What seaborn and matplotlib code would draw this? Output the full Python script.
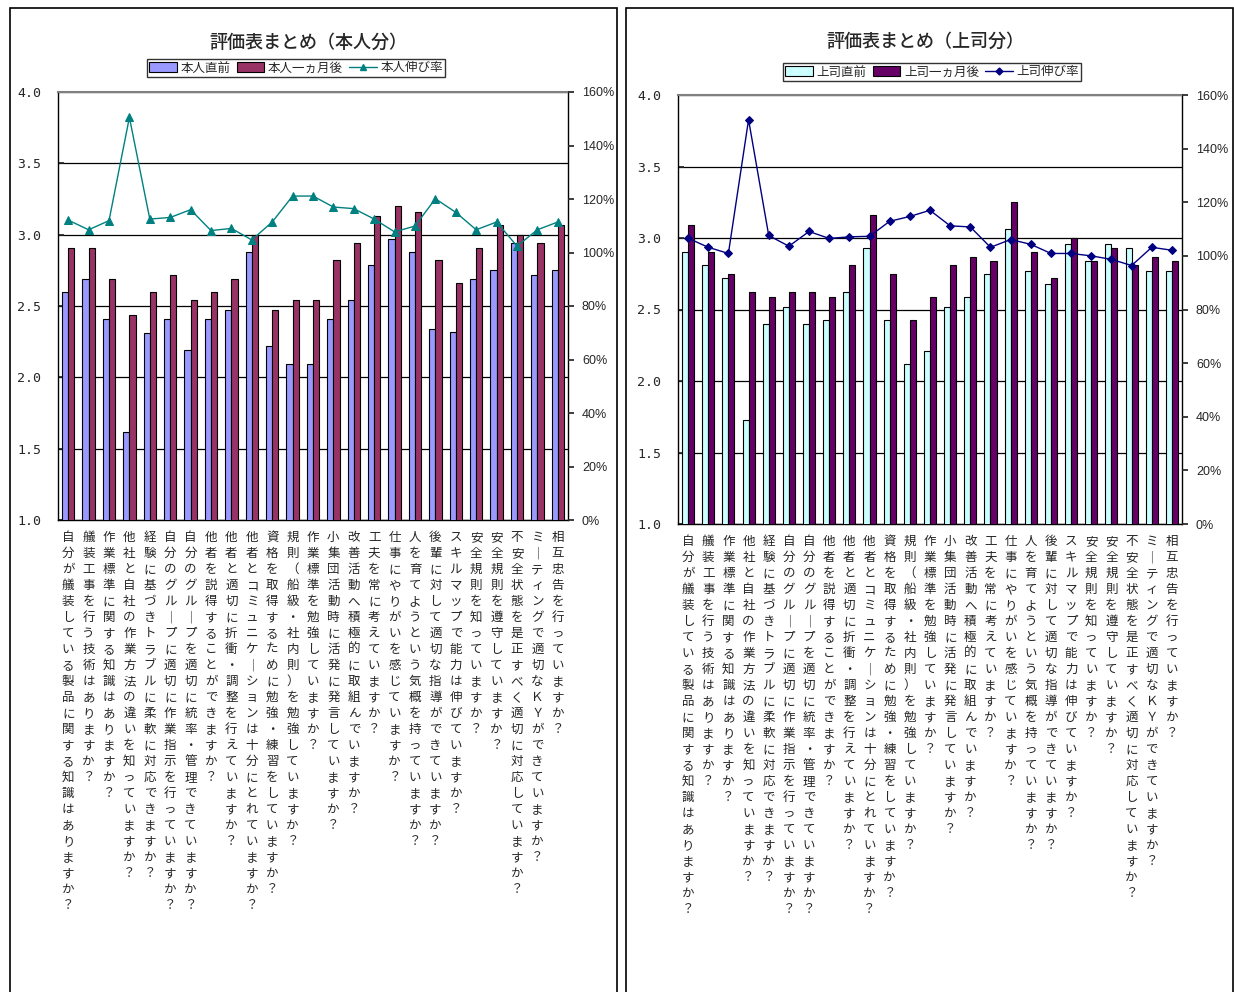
import numpy as np
import pandas as pd
import matplotlib
matplotlib.use("Agg")
import matplotlib.pyplot as plt
import matplotlib.patches as mpatches
from matplotlib.lines import Line2D
import seaborn as sns

sns.set_theme(style="white")
plt.rcParams["font.family"] = ["Noto Sans CJK JP", "DejaVu Sans"]

# Survey items (shared by both panels)
items = [
    "自分が艤装している製品に関する知識はありますか？",
    "艤装工事を行う技術はありますか？",
    "作業標準に関する知識はありますか？",
    "他社と自社の作業方法の違いを知っていますか？",
    "経験に基づきトラブルに柔軟に対応できますか？",
    "自分のグループに適切に作業指示を行っていますか？",
    "自分のグループを適切に統率・管理できていますか？",
    "他者を説得することができますか？",
    "他者と適切に折衝・調整を行えていますか？",
    "他者とコミュニケーションは十分にとれていますか？",
    "資格を取得するために勉強・練習をしていますか？",
    "規則（船級・社内則）を勉強していますか？",
    "作業標準を勉強していますか？",
    "小集団活動時に活発に発言していますか？",
    "改善活動へ積極的に取組んでいますか？",
    "工夫を常に考えていますか？",
    "仕事にやりがいを感じていますか？",
    "人を育てようという気概を持っていますか？",
    "後輩に対して適切な指導ができていますか？",
    "スキルマップで能力は伸びていますか？",
    "安全規則を知っていますか？",
    "安全規則を遵守していますか？",
    "不安全状態を是正すべく適切に対応していますか？",
    "ミーティングで適切なＫＹができていますか？",
    "相互忠告を行っていますか？",
]

# Self evaluation
self_before = [2.60, 2.69, 2.41, 1.62, 2.31, 2.41, 2.19, 2.41, 2.47, 2.88,
               2.22, 2.09, 2.09, 2.41, 2.54, 2.79, 2.97, 2.88, 2.34, 2.32,
               2.69, 2.75, 2.94, 2.72, 2.75]
self_after = [2.91, 2.91, 2.69, 2.44, 2.60, 2.72, 2.54, 2.60, 2.69, 3.00,
              2.47, 2.54, 2.54, 2.82, 2.94, 3.13, 3.20, 3.16, 2.82, 2.66,
              2.91, 3.07, 3.00, 2.94, 3.07]
self_growth = [112.1, 108.5, 111.9, 150.5, 112.5, 113.1, 116.0, 108.2, 109.0, 104.7,
               111.4, 121.1, 121.1, 117.0, 116.4, 112.5, 107.7, 109.9, 120.1, 115.0,
               108.5, 111.4, 102.4, 108.5, 111.4]

# Supervisor evaluation
boss_before = [2.90, 2.81, 2.72, 1.73, 2.40, 2.52, 2.40, 2.43, 2.62, 2.93,
               2.43, 2.12, 2.21, 2.52, 2.59, 2.75, 3.06, 2.77, 2.68, 2.96,
               2.84, 2.96, 2.93, 2.77, 2.77]
boss_after = [3.09, 2.90, 2.75, 2.62, 2.59, 2.62, 2.62, 2.59, 2.81, 3.16,
              2.75, 2.43, 2.59, 2.81, 2.87, 2.84, 3.25, 2.90, 2.72, 3.00,
              2.84, 2.93, 2.81, 2.87, 2.84]
boss_growth = [106.6, 103.2, 100.9, 150.8, 107.6, 103.6, 109.1, 106.5, 107.1, 107.3,
               112.9, 114.7, 117.0, 111.2, 110.8, 103.2, 106.1, 104.3, 100.9, 100.9,
               100.0, 98.7, 96.4, 103.2, 102.1]

W, H = 1234, 992
fig = plt.figure(figsize=(W / 100, H / 100), dpi=100)
fig.patch.set_facecolor("white")


def px_rect(x0, y0, x1, y1):
    return [x0 / W, 1 - y1 / H, (x1 - x0) / W, (y1 - y0) / H]


def vertical(s):
    return "\n".join(s.replace("ー", "｜"))


def panel(rect, box, title, title_x, title_y, names, before, after, growth,
          c_before, c_after, c_line, marker, msize, legend_xy):
    # outer frame of the panel
    fig.add_artist(mpatches.Rectangle((box[0] / W, -0.02), (box[1] - box[0]) / W,
                                      1 - 8 / H + 0.02, transform=fig.transFigure,
                                      fill=False, edgecolor="black", linewidth=1.2))
    ax = fig.add_axes(px_rect(*rect))
    ax.set_axisbelow(True)
    ax.yaxis.grid(True, color="black", linewidth=0.9)
    df = pd.DataFrame({
        "item": items * 2,
        "score": before + after,
        "phase": [names[0]] * len(items) + [names[1]] * len(items),
    })
    sns.barplot(data=df, x="item", y="score", hue="phase",
                palette=[c_before, c_after], width=0.6, edgecolor="black",
                linewidth=0.8, ax=ax, legend=False, errorbar=None, saturation=1,
                zorder=3)
    ax.set_ylim(1.0, 4.0)
    ax.set_yticks(np.arange(1.0, 4.01, 0.5))
    ax.set_yticklabels([f"{v:.1f}" for v in np.arange(1.0, 4.01, 0.5)],
                       fontsize=9.5, family=["DejaVu Sans Mono"])
    ax.set_xlim(-0.5, len(items) - 0.5)
    ax.set_xticks(range(len(items)))
    ax.set_xticklabels([vertical(s) for s in items], fontsize=9,
                       va="top", linespacing=1.30)
    ax.tick_params(axis="x", length=0, pad=8)
    ax.tick_params(axis="y", direction="in", length=4, pad=12, left=True)
    ax.set_xlabel("")
    ax.set_ylabel("")
    for side in ["left", "bottom", "right"]:
        ax.spines[side].set_color("black")
        ax.spines[side].set_linewidth(1.0)
    ax.spines["top"].set_color("#808080")
    ax.spines["top"].set_linewidth(1.5)

    # growth rate on the secondary axis
    ax2 = ax.twinx()
    ax2.grid(False)
    sns.lineplot(x=np.arange(len(items)), y=growth, ax=ax2, color=c_line,
                 marker=marker, markersize=msize, markeredgecolor=c_line,
                 linewidth=1.0)
    ax2.set_ylim(0, 160)
    ax2.set_yticks(np.arange(0, 161, 20))
    ax2.set_yticklabels([f"{v}%" for v in range(0, 161, 20)], fontsize=9,
                        family=["Liberation Sans"])
    ax2.tick_params(axis="y", direction="out", length=4, pad=6, right=True)
    ax2.grid(False)
    for sp in ax2.spines.values():
        sp.set_visible(False)
    ax2.set_ylabel("")

    fig.text(title_x / W, 1 - title_y / H, title,
             ha="center", va="center", fontsize=13, fontweight="medium")

    handles = [
        mpatches.Patch(facecolor=c_before, edgecolor="black", linewidth=0.8),
        mpatches.Patch(facecolor=c_after, edgecolor="black", linewidth=0.8),
        Line2D([], [], color=c_line, marker=marker, markersize=msize - 1,
               linewidth=1.0),
    ]
    leg = fig.legend(handles, names, loc="center",
                     bbox_to_anchor=(legend_xy[0] / W, 1 - legend_xy[1] / H),
                     ncol=3, fontsize=9, frameon=True, fancybox=False,
                     edgecolor="black", borderpad=0.2, handlelength=2.2,
                     handleheight=0.8, handletextpad=0.3, columnspacing=0.5,
                     borderaxespad=0)
    leg.get_frame().set_linewidth(1.0)
    return ax


panel((58, 92, 568, 520), (10, 617), "評価表まとめ（本人分）", 308, 43,
      ["本人直前", "本人一ヵ月後", "本人伸び率"],
      self_before, self_after, self_growth,
      "#9999FF", "#993366", "#008080", "^", 6, (296, 68))

panel((678, 95, 1182, 524), (626, 1233), "評価表まとめ（上司分）", 925, 42,
      ["上司直前", "上司一ヵ月後", "上司伸び率"],
      boss_before, boss_after, boss_growth,
      "#CCFFFF", "#660066", "#000080", "D", 4.5, (932, 72))

fig.savefig("out.png", dpi=100)
